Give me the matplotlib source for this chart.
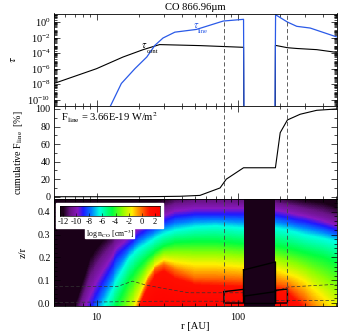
import matplotlib
matplotlib.use("Agg")
import matplotlib.pyplot as plt
from matplotlib.colors import LinearSegmentedColormap
from matplotlib.ticker import LogLocator, NullFormatter, FixedLocator, MultipleLocator
import numpy as np

plt.rcParams["font.family"] = ["Liberation Serif", "DejaVu Serif"]
plt.rcParams["mathtext.fontset"] = "stix"
plt.rcParams["font.size"] = 7.2
plt.rcParams["axes.linewidth"] = 0.6

# tau curves
r_cont_in = [5, 10, 15.4, 21.4, 28, 54, 110, 110.5]
tau_cont_in = [-7.9, -6.0, -4.5, -3.55, -2.9, -3.03, -3.25, -14]
r_cont_out = [184.5, 185, 225, 262, 363, 500]
tau_cont_out = [-14, -3.0, -3.3, -3.4, -3.55, -3.9]
r_line_in = [12.4, 15, 18.7, 22.7, 25.9, 29.6, 35.9, 51, 79, 110, 111]
tau_line_in = [-11, -7.9, -6, -4.5, -3, -2.05, -1.3, -0.95, 0.13, 0.35, -14]
r_line_out = [183, 185.5, 225, 262, 326, 500]
tau_line_out = [-14, 0.94, 0, -0.55, -0.77, -1.9]

# cumulative flux
r_cum = [5, 20, 28, 39, 54, 75, 83, 110, 185, 200, 225, 277, 363, 500]
cum_flux = [0, 0, 0.2, 0.5, 1.5, 10, 20, 33, 33, 73, 87.5, 94, 98.5, 100]

# log n_CO: height z/r of each density contour
levels = [3, 1.5, 0, -1.5, -4.5, -6.5, -9, -10.5, -12, -13]
r_inner = [5, 7.2, 9, 11, 14, 17, 20, 23, 26, 30, 36, 50, 70, 109.9]
z_inner = [
    [-1.6, -1.2, -.95, -.75, -.55, -.32, -.1, -.05, -.05, -.05, -.05, -.05, -.05, -.05],
    [-1.5, -1.1, -.85, -.65, -.45, -.22, -.02, .06, .115, .135, .1, .075, .07, .065],
    [-1.4, -1, -.75, -.55, -.35, -.15, 0, .1, .15, .17, .145, .11, .11, .105],
    [-1.3, -.9, -.65, -.45, -.25, -.08, .03, .12, .165, .19, .18, .17, .17, .16],
    [-1, -.6, -.35, -.17, -.01, .105, .16, .2, .225, .25, .265, .27, .27, .26],
    [-.8, -.4, -.15, -.03, .105, .2, .24, .265, .285, .305, .32, .335, .34, .33],
    [-.6, -.2, -.02, .09, .21, .26, .3, .325, .34, .36, .38, .39, .39, .39],
    [-.45, -.08, .09, .18, .27, .315, .345, .37, .39, .405, .425, .435, .435, .435],
    [-.3, 0, .2, .27, .33, .37, .39, .42, .44, .455, .47, .48, .48, .48],
    [.7, .7, .7, .7, .7, .7, .7, .7, .7, .7, .7, .7, .7, .7],
]
r_outer = [185.1, 225, 262, 300, 400, 505]
z_outer = [
    [-.05, -.08, -.12, -.16, -.3, -.5],
    [.055, .04, 0, -.04, -.2, -.4],
    [.09, .08, .05, .02, -.08, -.2],
    [.15, .13, .115, .095, .03, -.03],
    [.25, .24, .23, .22, .2, .175],
    [.33, .32, .31, .3, .285, .27],
    [.385, .375, .365, .36, .34, .32],
    [.43, .42, .41, .4, .38, .36],
    [.47, .46, .455, .45, .44, .42],
    [.7, .7, .7, .7, .7, .7],
]

# dashed layer boundaries
r_upper = [5, 14, 18, 22, 28, 45, 110]
z_upper = [.072, .072, .096, .08, .067, .045, .045]
r_upper2 = [185, 225, 500]
z_upper2 = [.05, .07, .082]
r_lower = [5, 28, 110]
z_lower = [.002, .008, .008]
r_lower2 = [185, 500]
z_lower2 = [.012, .012]

# emitting regions
box1_r = [80, 110, 110, 80, 80]
box1_z = [.05, .06, .0, .0, .05]
gap_r = [110, 185, 185, 110, 110]
gap_z = [.145, .18, .05, .03, .145]
gap2_r = [110, 110, 185, 185]
gap2_z = [.03, .0, .0, .05]
box2_r = [185, 225, 225, 185, 185]
box2_z = [.056, .061, .0, .0, .056]

cb_ticks = [-12, -10, -8, -6, -4, -2, 0, 2]

vmin, vmax = -13, 3
cmap = LinearSegmentedColormap.from_list("co", [
    (0.0, "#1a0018"), (0.06, "#1a0018"), (0.13, "#6a1488"), (0.2, "#8a18c0"),
    (0.25, "#2018ff"), (0.33, "#0080ff"), (0.41, "#00ffe0"), (0.53, "#00ff40"),
    (0.63, "#90ff00"), (0.72, "#fff000"), (0.81, "#ff7000"), (0.89, "#ff1000"),
    (1.0, "#ff0000")])

fig = plt.figure(figsize=(3.54, 3.34), dpi=100)
W, H = 354, 334


def panel(top, bottom):
    return fig.add_axes([54 / W, 1 - bottom / H, 283 / W, (bottom - top) / H])


def density_map(rr, zz):
    # turn the contour heights into a map of log n on a fine r, z mesh
    r_fine = np.logspace(np.log10(rr[0]), np.log10(rr[-1]), 200)
    z_fine = np.linspace(-0.02, 0.46, 160)
    c_fine = np.zeros((len(z_fine), len(r_fine)))
    zz = np.array(zz)
    for j, r in enumerate(r_fine):
        z_lev = [np.interp(np.log10(r), np.log10(rr), row) for row in zz]
        c_fine[:, j] = np.interp(z_fine, z_lev, levels)
    return r_fine, z_fine, c_fine


ax1 = panel(13.5, 106)
ax2 = panel(106, 199)
ax3 = panel(199, 306)

# top panel
ax1.plot(r_cont_in, 10.0 ** np.array(tau_cont_in), color="k", lw=0.8)
ax1.plot(r_cont_out, 10.0 ** np.array(tau_cont_out), color="k", lw=0.8)
ax1.plot(r_line_in, 10.0 ** np.array(tau_line_in), color="#2a5ae8", lw=0.9)
ax1.plot(r_line_out, 10.0 ** np.array(tau_line_out), color="#2a5ae8", lw=0.9)
ax1.set_yscale("log")
ax1.set_ylim(10.0 ** -10.8, 10.0 ** 1.1)
ax1.yaxis.set_major_locator(FixedLocator(10.0 ** np.arange(-10, 1, 2)))
ax1.yaxis.set_minor_locator(LogLocator(base=10, subs=np.arange(2, 10), numticks=30))
ax1.yaxis.set_minor_formatter(NullFormatter())
ax1.set_ylabel(r"$\tau$", fontsize=8.5)
ax1.yaxis.set_label_coords((19 - 54) / 283, 0.5)
ax1.set_title("CO 866.96µm", fontsize=7.6, pad=2.5)
ax1.text(21.6, 10.0 ** -3.08, r"$\tau$", fontsize=7.5, ha="center", va="center")
ax1.text(25, 10.0 ** -3.85, "cont", fontsize=4.8, ha="center", va="center")
ax1.text(51, 10.0 ** -0.5, r"$\tau$", fontsize=7.5, color="#2a5ae8", ha="center", va="center", zorder=5)
ax1.text(57, 10.0 ** -1.2, "line", fontsize=4.8, color="#2a5ae8", ha="center", va="center")

# middle panel
ax2.plot(r_cum, cum_flux, color="k", lw=0.8)
ax2.set_ylim(-2.6, 103.4)
ax2.yaxis.set_major_locator(MultipleLocator(20))
ax2.yaxis.set_minor_locator(MultipleLocator(10))
ax2.set_ylabel(r"cumulative F$_{\mathrm{line}}$  [%]", fontsize=7.2)
ax2.yaxis.set_label_coords((25 - 54) / 283, 0.5)
ax2.text(5.6, 90.5, r"F$_{\mathrm{line}}$ = 3.66E-19 W/m$^{2}$", fontsize=7.6, va="center")

# bottom panel
ax3.set_facecolor("#1a0018")
for rr, zz in [(r_inner, z_inner), (r_outer, z_outer)]:
    r_fine, z_fine, c_fine = density_map(rr, zz)
    ax3.pcolormesh(r_fine, z_fine, c_fine, shading="nearest", cmap=cmap, vmin=vmin, vmax=vmax,
                   rasterized=True)
ax3.set_ylim(-0.013, 0.456)
ax3.yaxis.set_major_locator(MultipleLocator(0.1))
ax3.yaxis.set_minor_locator(MultipleLocator(0.02))
ax3.set_ylabel("z/r", fontsize=7.6)
ax3.yaxis.set_label_coords((28 - 54) / 283, 0.5)
ax3.set_xlabel("r [AU]", fontsize=7.6)
ax3.xaxis.set_label_coords(0.5, -(322 - 306) / 107)
for rr, zz in [(r_upper, z_upper), (r_upper2, z_upper2), (r_lower, z_lower), (r_lower2, z_lower2)]:
    ax3.plot(rr, zz, color="#333333", lw=0.5, ls=(0, (5, 3)))
for rr, zz in [(box1_r, box1_z), (gap_r, gap_z), (gap2_r, gap2_z), (box2_r, box2_z)]:
    ax3.plot(rr, zz, color="k", lw=1.0)

for ax in (ax1, ax2, ax3):
    ax.set_xscale("log")
    ax.set_xlim(5, 505)
    ax.axvline(80, color="#444444", lw=0.6, ls=(0, (5, 3)))
    ax.axvline(225, color="#444444", lw=0.6, ls=(0, (5, 3)))
    ax.xaxis.set_major_locator(FixedLocator([10, 100]))
    ax.xaxis.set_minor_locator(LogLocator(base=10, subs=np.arange(2, 10), numticks=10))
    ax.xaxis.set_minor_formatter(NullFormatter())
    ax.tick_params(which="major", direction="in", top=True, right=True, length=4, width=0.5, labelsize=7.2, pad=2.5)
    ax.tick_params(which="minor", direction="in", top=True, right=True, length=2, width=0.5)
ax3.set_xticklabels(["10", "100"])
ax3.tick_params(axis="x", which="major", pad=5)
ax1.tick_params(axis="y", which="major", labelsize=7.4)
ax1.tick_params(axis="x", which="both", labelbottom=False)
ax2.tick_params(axis="x", which="both", labelbottom=False)

# colour bar key
fig.patches.append(plt.Rectangle((56 / W, 1 - 228 / H), 107 / W, 25 / H, transform=fig.transFigure,
                                 color="white", zorder=5))
fig.patches.append(plt.Rectangle((85 / W, 1 - 238 / H), 49 / W, 11 / H, transform=fig.transFigure,
                                 color="white", zorder=5))
cax = fig.add_axes([60 / W, 1 - 215.7 / H, 100 / W, 9.7 / H], zorder=6)
cax.imshow(np.linspace(-12.5, 2.8, 256)[None, :], extent=[-12.5, 2.8, 0, 1], aspect="auto",
           cmap=cmap, vmin=vmin, vmax=vmax)
cax.set_yticks([])
cax.set_xticks(cb_ticks)
cax.set_xticklabels([str(t) for t in cb_ticks], fontsize=6)
cax.tick_params(axis="x", direction="in", length=2, width=0.4, pad=2)
for s in cax.spines.values():
    s.set_linewidth(0.5)
cax.set_xlabel(r"log n$_{\mathrm{CO}}$ [cm$^{-3}$]", fontsize=5.6, labelpad=1)

fig.savefig("out.png", dpi=100)
